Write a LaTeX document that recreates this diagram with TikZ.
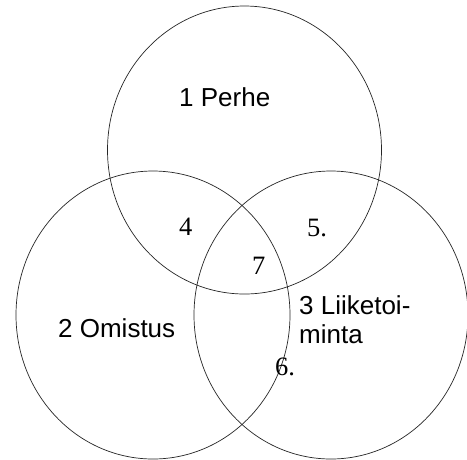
\documentclass[tikz,border=0pt]{standalone}
\usepackage{fontspec}
\setmainfont{Liberation Serif}
\setsansfont{Liberation Sans}
\usetikzlibrary{shapes.geometric}
\begin{document}
\begin{tikzpicture}[x=1pt,y=-1pt,
  setcircle/.style={ellipse,draw=black!85,line width=0.7pt,inner sep=0pt,
    minimum width=274pt,minimum height=288pt},
  area/.style={inner sep=0pt,anchor=base west,font=\sffamily\fontsize{26}{29}\selectfont,align=left},
  part/.style={inner sep=0pt,anchor=base west,font=\rmfamily\fontsize{26.5}{26.5}\selectfont}]
  \useasboundingbox (0,0) rectangle (467,459);
  \fill[white] (0,0) rectangle (467,459);

  % the three overlapping sets
  \node[setcircle] (perhe) at (244.5,150) {};
  \node[setcircle] (omistus) at (153,315) {};
  \node[setcircle] (liiketoiminta) at (331,315) {};

  % set names
  \node[area] (t1) at (179,106) {1 Perhe};
  \node[area] (t2) at (58,337) {2 Omistus};
  \node[area] (t3) at (299,343) {3 Liiketoi-\\minta};

  % numbered overlap regions
  \node[part] (t4) at (179,235) {4};
  \node[part] (t5) at (307,236) {5.};
  \node[part] (t7) at (252,274) {7};
  \node[part] (t6) at (275,375) {6.};
\end{tikzpicture}
\end{document}
